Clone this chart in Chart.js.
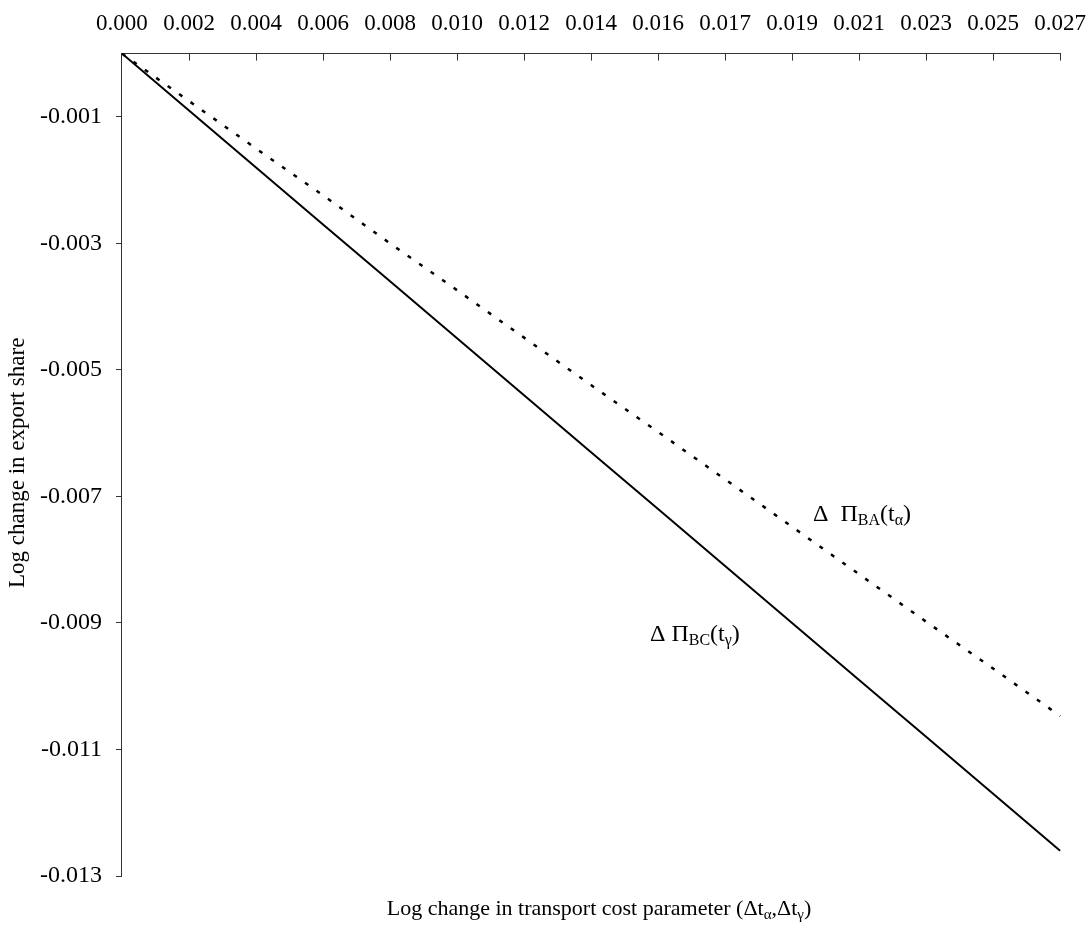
<!DOCTYPE html>
<html>
<head>
<meta charset="utf-8">
<script src="https://cdn.jsdelivr.net/npm/chart.js@4"></script>
<style>
  html, body { margin: 0; padding: 0; background: #fff; overflow: hidden; }
  #wrap { width: 1102px; height: 936px; }
</style>
</head>
<body>
<div id="wrap"><canvas id="myChart"></canvas></div>
<script>
// x categories (tick labels of the top axis)
var xLabels = ['0.000','0.002','0.004','0.006','0.008','0.010','0.012','0.014',
               '0.016','0.017','0.019','0.021','0.023','0.025','0.027'];
// Delta Pi_BC(t_gamma) - solid
var piBC = [0, -0.0009, -0.0018, -0.0027, -0.0036, -0.0045, -0.0054, -0.0063,
            -0.0072, -0.0081, -0.0090, -0.0099, -0.0108, -0.0117, -0.0126];
// Delta Pi_BA(t_alpha) - dotted
var piBA = [0, -0.00075, -0.0015, -0.00224, -0.003, -0.00374, -0.00449, -0.00524,
            -0.00598, -0.00673, -0.00748, -0.00823, -0.00898, -0.00972, -0.01047];
// y tick values
var yTicks = [-0.013, -0.011, -0.009, -0.007, -0.005, -0.003, -0.001];

var FONT = 'Liberation Serif, Times New Roman, serif';
var ctx = document.getElementById('myChart');

// draws text with subscript parts, segs = [[text, isSub], ...]
function richText(c, segs, x, y, size){
	var cx = x;
	segs.forEach(function(s){
		var sz = s[1] ? Math.round(size * 0.67) : size;
		c.font = sz + 'px ' + FONT;
		c.fillText(s[0], cx, s[1] ? y + size * 0.19 : y);
		cx += c.measureText(s[0]).width;
	});
	return cx - x;
}
function richWidth(c, segs, size){
	var w = 0;
	segs.forEach(function(s){
		c.font = (s[1] ? Math.round(size * 0.67) : size) + 'px ' + FONT;
		w += c.measureText(s[0]).width;
	});
	return w;
}

var extras = {
	id: 'extras',
	afterDraw: function(chart){
		var c = chart.ctx, a = chart.chartArea, xs = chart.scales.x;
		c.save();
		// inward tick marks on the top axis
		c.strokeStyle = '#333';
		c.lineWidth = 1;
		for (var i = 1; i < xLabels.length; i++){
			var px = Math.round(xs.getPixelForTick(i)) + 0.5;
			c.beginPath();
			c.moveTo(px, a.top);
			c.lineTo(px, a.top + 7);
			c.stroke();
		}
		c.fillStyle = '#000';
		c.textBaseline = 'alphabetic';
		c.textAlign = 'left';
		// series labels
		richText(c, [['\u0394  \u03A0', false], ['BA', true], ['(t', false], ['\u03B1', true], [')', false]],
			a.left + 691, a.top + 467, 24);
		richText(c, [['\u0394 \u03A0', false], ['BC', true], ['(t', false], ['\u03B3', true], [')', false]],
			a.left + 528, a.top + 587, 24);
		// x axis title
		var xt = [['Log change in transport cost parameter (\u0394t', false], ['\u03B1', true],
		          [',\u0394t', false], ['\u03B3', true], [')', false]];
		var w = richWidth(c, xt, 22);
		richText(c, xt, a.left + 477 - w / 2, 915, 22);
		// y axis title
		c.translate(24, (a.top + a.bottom) / 2 - 2);
		c.rotate(-Math.PI / 2);
		c.font = '23px ' + FONT;
		c.textAlign = 'center';
		c.fillText('Log change in export share', 0, 0);
		c.restore();
	}
};

var myChart = new Chart(ctx, {
	type: 'line',
	data: {
		labels: xLabels,
		datasets: [{
			label: 'piBC',
			data: piBC,
			borderColor: '#000',
			borderWidth: 2,
			pointRadius: 0,
			tension: 0
		}, {
			label: 'piBA',
			data: piBA,
			borderColor: '#000',
			borderWidth: 2.5,
			borderDash: [4, 10],
			pointRadius: 0,
			tension: 0
		}]
	},
	options: {
		responsive: true,
		maintainAspectRatio: false,
		animation: false,
		layout: { padding: { left: 26, top: -6, right: 0, bottom: 60 } },
		plugins: {
			legend: { display: false },
			tooltip: { enabled: false }
		},
		scales: {
			x: {
				position: 'top',
				offset: false,
				grid: { drawOnChartArea: false, drawTicks: false },
				border: { color: '#333', width: 1 },
				ticks: {
					color: '#000',
					font: { family: FONT, size: 23 },
					padding: 16,
					maxRotation: 0,
					autoSkip: false
				}
			},
			y: {
				min: -0.013,
				max: 0,
				afterBuildTicks: function(axis){
					axis.ticks = yTicks.map(function(v){ return { value: v }; });
				},
				grid: { drawOnChartArea: false, tickLength: 6, color: '#333' },
				border: { color: '#333', width: 1 },
				ticks: {
					color: '#000',
					font: { family: FONT, size: 24 },
					padding: 14,
					callback: function(v){ return v.toFixed(3); }
				}
			}
		}
	},
	plugins: [extras]
});
</script>
</body>
</html>
